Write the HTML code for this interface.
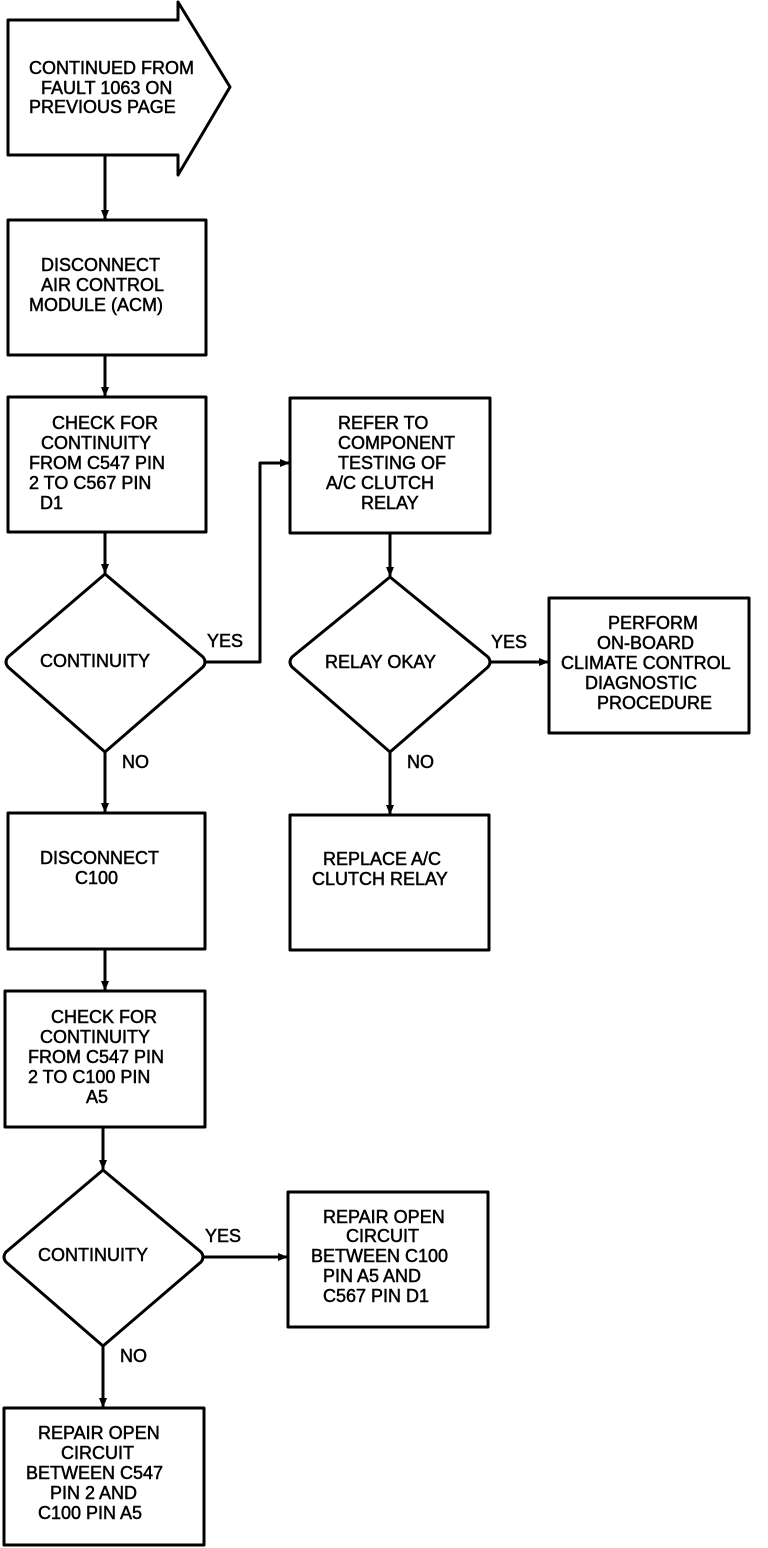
<!DOCTYPE html>
<html><head><meta charset="utf-8"><style>
html,body{margin:0;padding:0;background:#fff;}
svg{display:block;}
text{font-family:"Liberation Sans",sans-serif;font-size:18px;fill:#000;stroke:#000;stroke-width:0.5;}
</style></head><body>
<svg width="768" height="1548" viewBox="0 0 768 1548" xmlns="http://www.w3.org/2000/svg">
<defs><marker id="a" markerWidth="10" markerHeight="10" refX="9" refY="5" orient="auto" markerUnits="userSpaceOnUse"><path d="M0,1 L10,5 L0,9 Z" fill="#000"/></marker></defs>
<g fill="none" stroke="#000" stroke-width="3" stroke-linejoin="round">
<path d="M8,20 H178 V2 L230,87 L178,175 V155 H8 Z"/>
<rect x="8" y="220" width="198" height="135"/>
<rect x="8" y="397" width="198" height="135"/>
<rect x="290" y="398" width="200" height="135"/>
<rect x="549" y="598" width="200" height="135"/>
<rect x="290" y="815" width="199" height="135"/>
<rect x="8" y="813" width="197" height="136"/>
<rect x="5" y="991" width="200" height="136"/>
<rect x="288" y="1192" width="200" height="135"/>
<rect x="4" y="1408" width="200" height="137"/>
<path d="M105,574 L203,657 Q207,662 203,667 L105,752 L8,667 Q4,662 8,657 Z"/>
<path d="M390,577 L488,657 Q492,662 488,667 L390,752 L292,667 Q288,662 292,657 Z"/>
<path d="M103,1170 L201,1252 Q205,1257 201,1262 L103,1346 L6,1262 Q2,1257 6,1252 Z"/>
<g marker-end="url(#a)">
<path d="M105,155 V219"/><path d="M105,355 V396"/><path d="M105,532 V573"/>
<path d="M205,662 H260 V463 H289"/><path d="M390,533 V576"/><path d="M490,662 H548"/>
<path d="M390,752 V814"/><path d="M105,752 V812"/><path d="M105,949 V990"/>
<path d="M103,1127 V1169"/><path d="M203,1257 H287"/><path d="M103,1346 V1407"/>
</g></g>
<text x="29" y="74">CONTINUED FROM</text><text x="41" y="94">FAULT 1063 ON</text><text x="29" y="113">PREVIOUS PAGE</text>
<text x="41" y="271">DISCONNECT</text><text x="41" y="291">AIR CONTROL</text><text x="29" y="311">MODULE (ACM)</text>
<text x="52" y="429">CHECK FOR</text><text x="41" y="449">CONTINUITY</text><text x="29" y="469">FROM C547 PIN</text><text x="29" y="489">2 TO C567 PIN</text><text x="40" y="509">D1</text>
<text x="338" y="429">REFER TO</text><text x="338" y="449">COMPONENT</text><text x="338" y="469">TESTING OF</text><text x="326" y="489">A/C CLUTCH</text><text x="361" y="509">RELAY</text>
<text x="40" y="667">CONTINUITY</text><text x="207" y="647">YES</text><text x="122" y="768">NO</text>
<text x="325" y="668">RELAY OKAY</text><text x="491" y="648">YES</text><text x="407" y="768">NO</text>
<text x="608" y="629">PERFORM</text><text x="597" y="649">ON-BOARD</text><text x="561" y="669">CLIMATE CONTROL</text><text x="585" y="689">DIAGNOSTIC</text><text x="597" y="709">PROCEDURE</text>
<text x="323" y="865">REPLACE A/C</text><text x="312" y="885">CLUTCH RELAY</text>
<text x="40" y="864">DISCONNECT</text><text x="75" y="884">C100</text>
<text x="51" y="1023">CHECK FOR</text><text x="40" y="1043">CONTINUITY</text><text x="28" y="1063">FROM C547 PIN</text><text x="28" y="1083">2 TO C100 PIN</text><text x="86" y="1103">A5</text>
<text x="38" y="1261">CONTINUITY</text><text x="205" y="1242">YES</text><text x="120" y="1362">NO</text>
<text x="323" y="1223">REPAIR OPEN</text><text x="346" y="1242">CIRCUIT</text><text x="311" y="1262">BETWEEN C100</text><text x="323" y="1282">PIN A5 AND</text><text x="323" y="1302">C567 PIN D1</text>
<text x="38" y="1439">REPAIR OPEN</text><text x="61" y="1459">CIRCUIT</text><text x="26" y="1479">BETWEEN C547</text><text x="50" y="1499">PIN 2 AND</text><text x="38" y="1519">C100 PIN A5</text>
</svg>
</body></html>
